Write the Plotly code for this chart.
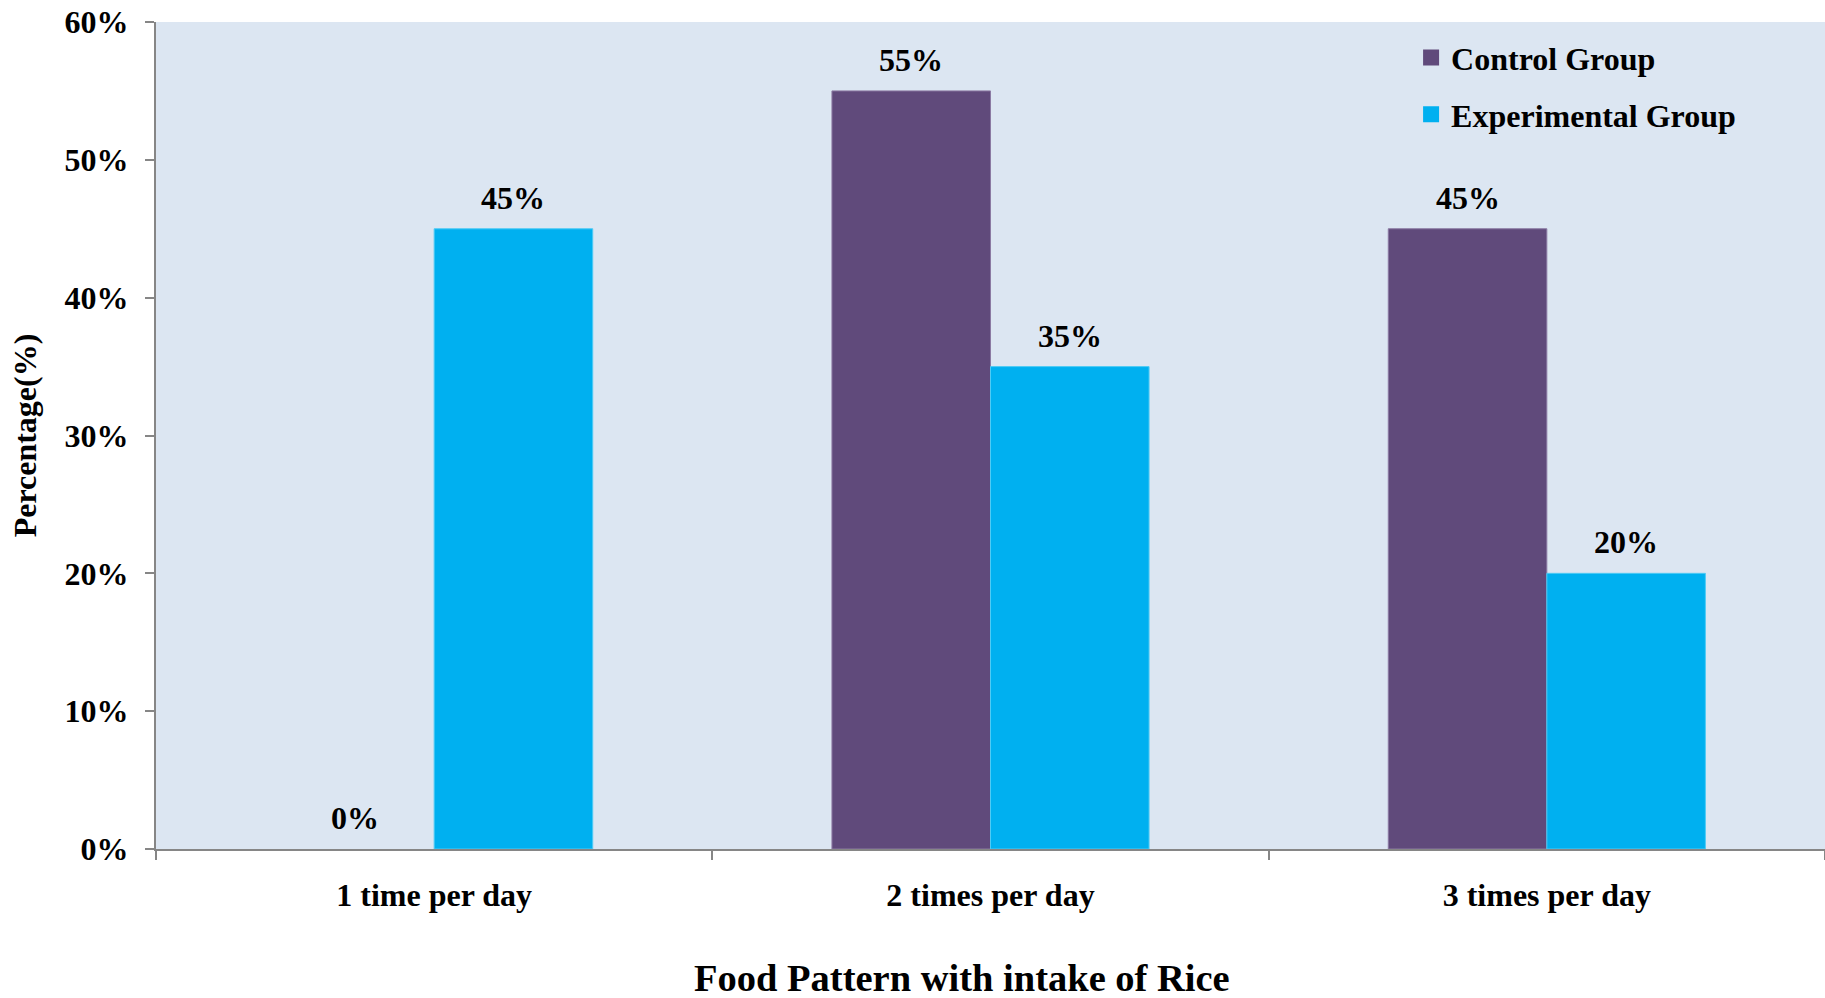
import plotly.graph_objects as go

# Rice intake frequency by group (percent of respondents)
categories = ["1 time per day", "2 times per day", "3 times per day"]
control_group = [0, 55, 45]
experimental_group = [45, 35, 20]
y_ticks = [0, 10, 20, 30, 40, 50, 60]

FONT = "Liberation Serif"
PURPLE = "#604A7B"
CYAN = "#00B0F0"

W, H = 1825, 998
M_L, M_R, M_T, M_B = 156, 0, 22, 149
BARGAP = 0.43

fig = go.Figure()
fig.add_trace(go.Bar(
    name="Control Group", x=categories, y=control_group,
    marker=dict(color=PURPLE,
                line=dict(color="#8B7AA3", width=[0 if v == 0 else 1 for v in control_group])),
    showlegend=False,
))
fig.add_trace(go.Bar(
    name="Experimental Group", x=categories, y=experimental_group,
    marker=dict(color=CYAN,
                line=dict(color="#4FCBF5", width=[0 if v == 0 else 1 for v in experimental_group])),
    showlegend=False,
))

# square legend keys
for name, color, grp in (("Control Group", PURPLE, "c"), ("Experimental Group", CYAN, "e")):
    fig.add_trace(go.Scatter(
        x=[None], y=[None], mode="markers", name=f"<b>{name}</b>",
        marker=dict(symbol="square", size=16, color=color),
        legendgroup=grp, showlegend=True,
    ))

# value labels above each bar
plot_w = W - M_L - M_R
cat_w = plot_w / len(categories)
bar_w = cat_w * (1 - BARGAP) / 2
annotations = []
for series, sign in ((control_group, -1), (experimental_group, 1)):
    for cat, v in zip(categories, series):
        annotations.append(dict(
            x=cat, y=v, xref="x", yref="y", text=f"<b>{v}%</b>",
            showarrow=False, xshift=sign * bar_w / 2, yanchor="bottom",
            yshift=11, font=dict(family=FONT, size=32, color="black"),
        ))

# x-axis title, set slightly left of the plot centre
annotations.append(dict(
    x=0.483, y=-0.156, xref="paper", yref="paper",
    text="<b>Food Pattern with intake of Rice</b>", showarrow=False,
    xanchor="center", yanchor="middle",
    font=dict(family=FONT, size=38.5, color="black"),
))

fig.update_layout(
    width=W, height=H,
    margin=dict(l=M_L, r=M_R, t=M_T, b=M_B),
    paper_bgcolor="white",
    plot_bgcolor="#DCE6F2",
    barmode="group", bargap=BARGAP, bargroupgap=0,
    font=dict(family=FONT, size=32, color="black"),
    showlegend=True,
    legend=dict(
        x=0.752, y=0.99, xanchor="left", yanchor="top",
        bgcolor="rgba(0,0,0,0)", font=dict(family=FONT, size=32, color="black"),
        tracegroupgap=12, itemwidth=30,
    ),
    annotations=annotations,
)

fig.update_xaxes(
    showline=True, linecolor="#868686", linewidth=2,
    ticks="outside", tickson="boundaries", ticklen=9, tickcolor="#868686", tickwidth=1.5,
    showgrid=False, zeroline=False,
    tickfont=dict(family=FONT, size=32, color="black"),
    tickvals=categories, ticktext=[f"<b>{c}</b>" for c in categories],
    ticklabelstandoff=17,
)
fig.update_yaxes(
    range=[0, 60], tickvals=y_ticks, ticktext=[f"<b>{v}%</b>" for v in y_ticks],
    showline=True, linecolor="#868686", linewidth=2,
    ticks="outside", ticklen=9, tickcolor="#868686", tickwidth=1.5,
    showgrid=False, zeroline=False,
    tickfont=dict(family=FONT, size=32, color="black"),
    ticklabelstandoff=10,
    title=dict(text="<b>Percentage(%)</b>",
               font=dict(family=FONT, size=32, color="black"), standoff=18),
)

fig.write_html("out.html")
